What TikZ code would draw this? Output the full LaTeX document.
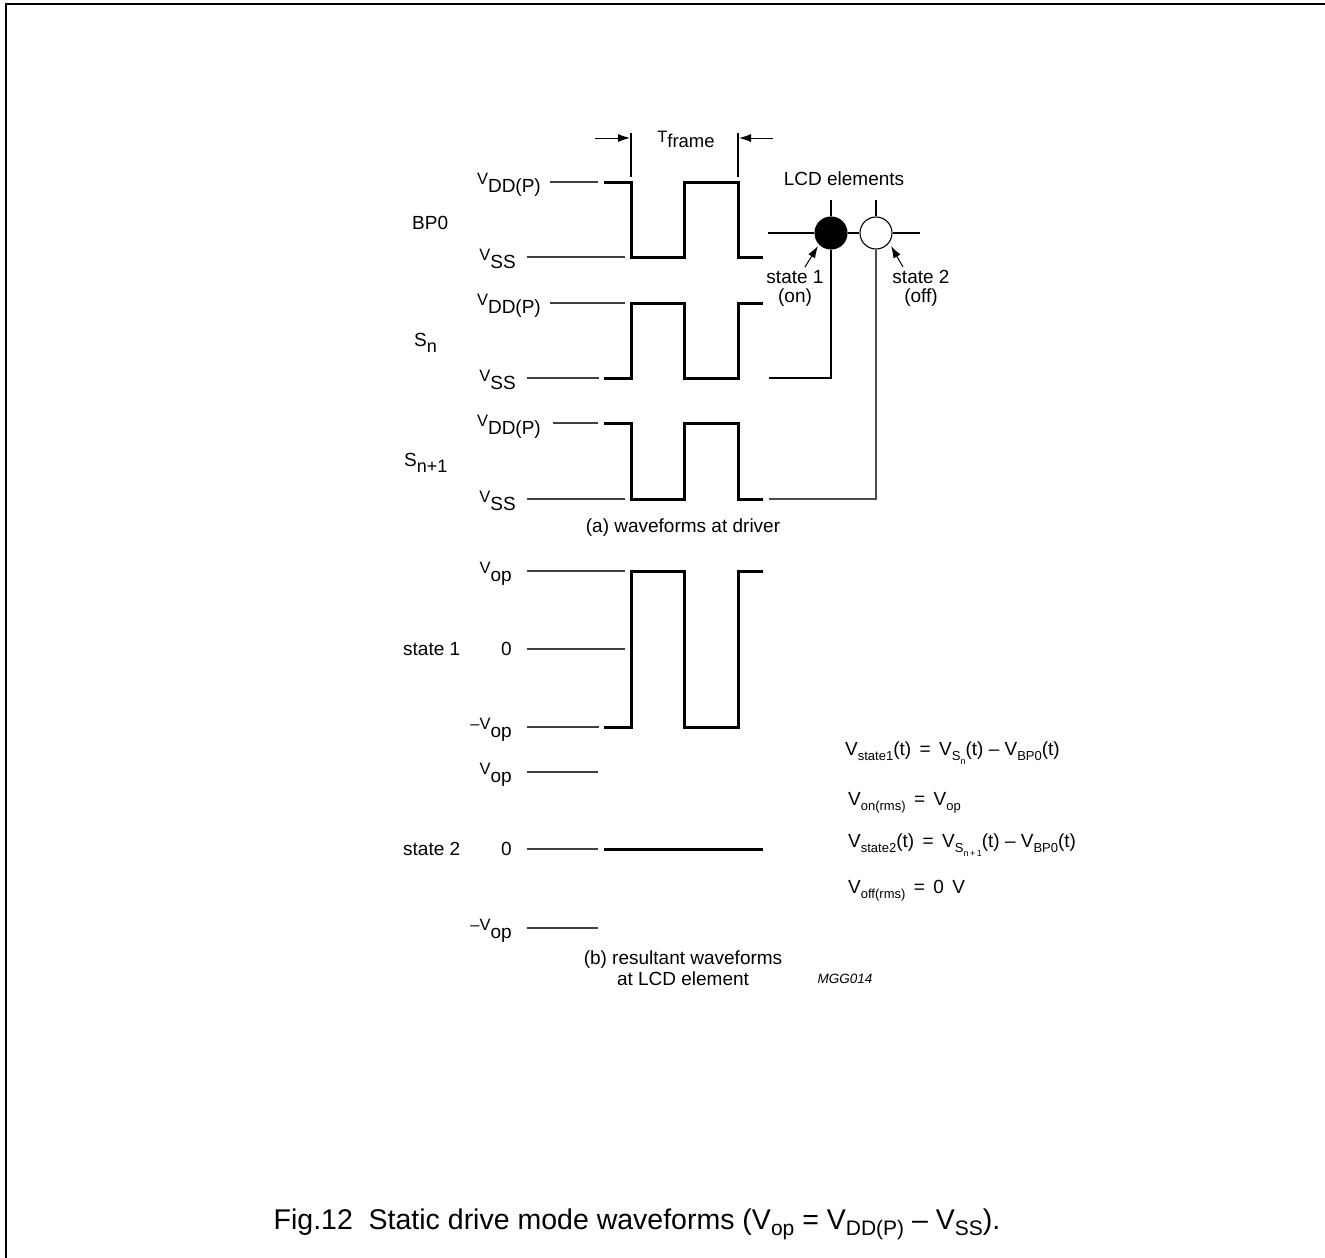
\documentclass[tikz,border=0pt]{standalone}
\usepackage{fontspec}
\setmainfont{Liberation Sans}
\usetikzlibrary{arrows.meta}
\newcommand{\lv}[2][V]{\raisebox{8pt}{\fontsize{16.5}{16.5}\selectfont #1}#2}
\newcommand{\fv}[1]{V\raisebox{-5.5pt}{\fontsize{13}{13}\selectfont #1}}
\newcommand{\ssub}[1]{\raisebox{-3.5pt}{\fontsize{9}{9}\selectfont #1}}
\begin{document}
\begin{tikzpicture}[x=1pt,y=-1pt,
  every node/.style={font=\fontsize{19}{22}\selectfont, inner sep=0pt},
  wave/.style={line width=3pt, line join=miter, line cap=butt},
  ref/.style={line width=1.1pt, black!75},
  conn/.style={line width=1.1pt},
  lab/.style={anchor=base east},
  tip/.style={-{Latex[length=12pt,width=8pt]}, line width=1pt}
]
\useasboundingbox (0,0) rectangle (1325,1258);
\draw[line width=2pt] (6,1258) -- (6,4) -- (1325,4);

% ---- T frame
\node[anchor=base] (tf) at (686,147) {\raisebox{5pt}{\fontsize{16.5}{16.5}\selectfont T}{\fontsize{18.5}{19}\selectfont frame}};
\coordinate (tl) at (631,133);
\coordinate (tr) at (738,133);
\draw[conn] (tl) -- (631,177);
\draw[conn] (tr) -- (738,177);
\draw[tip] (595,138) -- (630,138);
\draw[tip] (773,138) -- (739,138);

% ---- BP0
\node[anchor=west] (bp0) at (412,223) {BP0};
\node[lab] (bvdd) at (541,192) {\lv{DD(P)}};
\node[lab] (bvss) at (516,268) {\lv{SS}};
\draw[ref] (550,182) -- (598,182);
\draw[ref] (527,257) -- (625,257);
\draw[wave] (604,182) -- (631,182) -- (631,257) -- (684,257) -- (684,182) -- (738,182) -- (738,257) -- (763,257);

% ---- Sn
\node[anchor=west] (sn) at (414,343) {S\raisebox{-6pt}{\fontsize{18}{18}\selectfont n}};
\node[lab] (svdd) at (541,313) {\lv{DD(P)}};
\node[lab] (svss) at (516,389) {\lv{SS}};
\draw[ref] (550,303) -- (625,303);
\draw[ref] (527,378) -- (599,378);
\draw[wave] (604,378) -- (631,378) -- (631,303) -- (684,303) -- (684,378) -- (738,378) -- (738,303) -- (763,303);

% ---- Sn+1
\node[anchor=west] (sn1) at (404,463) {S\raisebox{-6pt}{\fontsize{18}{18}\selectfont n+1}};
\node[lab] (tvdd) at (541,434) {\lv{DD(P)}};
\node[lab] (tvss) at (516,510) {\lv{SS}};
\draw[ref] (553,423) -- (598,423);
\draw[ref] (527,499) -- (625,499);
\draw[wave] (604,423) -- (631,423) -- (631,499) -- (684,499) -- (684,423) -- (738,423) -- (738,499) -- (763,499);

\node (capa) at (683,528) {(a) waveforms at driver};

% ---- LCD elements
\node (lcd) at (844,179) {LCD elements};
\node[circle, draw, fill=black, line width=1.1pt, minimum size=32pt] (e1) at (831,233) {};
\node[circle, draw, fill=white, line width=1.1pt, minimum size=32pt] (e2) at (876,233) {};
\coordinate (bpend) at (768,233);
\draw[conn] (bpend) -- (e1.west);
\draw[conn] (e1.east) -- (e2.west);
\draw[conn] (e2.east) -- (920,233);
\draw[conn] (831,200) -- (e1.north);
\draw[conn] (876,200) -- (e2.north);
\coordinate (snend) at (769,378);
\coordinate (sn1end) at (769,499);
\draw[conn] (e1.south) |- (snend);
\draw[conn, black!70] (e2.south) |- (sn1end);
\node (st1) at (795,277) {state 1};
\node (on) at (795,298) {(on)};
\node (st2) at (921,277) {state 2};
\node (off) at (921,298) {(off)};
\draw[tip] (805,267) -- (818,246);
\draw[tip] (903,267) -- (891,246);

% ---- state 1
\node[anchor=west] (s1) at (403,649) {state 1};
\node[lab] (avop) at (512,581) {\lv{op}};
\node[lab] (azero) at (512,655.5) {0};
\node[lab] (amvop) at (512,737) {\lv[--V]{op}};
\draw[ref] (527,571) -- (625,571);
\draw[ref] (527,649) -- (625,649);
\draw[ref] (527,727) -- (599,727);
\draw[wave] (604,727) -- (631,727) -- (631,571) -- (684,571) -- (684,727) -- (738,727) -- (738,571) -- (763,571);

% ---- state 2
\node[anchor=west] (s2) at (403,849) {state 2};
\node[lab] (bvop) at (512,782) {\lv{op}};
\node[lab] (bzero) at (512,855.5) {0};
\node[lab] (bmvop) at (512,938) {\lv[--V]{op}};
\draw[ref] (527,772) -- (598,772);
\draw[ref] (527,849) -- (598,849);
\draw[ref] (527,928) -- (598,928);
\draw[wave] (604,849) -- (763,849);

\node (capb1) at (683,960) {(b) resultant waveforms};
\node (capb2) at (683,979) {at LCD element};
\node (mgg) at (845,979) {\fontsize{13.5}{15}\selectfont\itshape MGG014};

% ---- formulas
\node[anchor=base west] (f1) at (845,755) {\fv{state1}(t)\ \,=\ \,\fv{S\ssub{n}}(t) -- \fv{BP0}(t)};
\node[anchor=base west] (f2) at (848,805) {\fv{on(rms)}\ \,=\ \,\fv{op}};
\node[anchor=base west] (f3) at (848,847) {\fv{state2}(t)\ \,=\ \,\fv{S\ssub{n\,+\,1}}(t) -- \fv{BP0}(t)};
\node[anchor=base west] (f4) at (848,893) {\fv{off(rms)}\ \,=\ \,0\ \,V};

% ---- caption
\node[anchor=base] (cap) at (637,1229) {\fontsize{28.5}{32}\selectfont Fig.12\ \ Static drive mode waveforms (V\raisebox{-6pt}{\fontsize{21}{21}\selectfont op} = V\raisebox{-6pt}{\fontsize{21}{21}\selectfont DD(P)} -- V\raisebox{-6pt}{\fontsize{21}{21}\selectfont SS}).};
\end{tikzpicture}
\end{document}
